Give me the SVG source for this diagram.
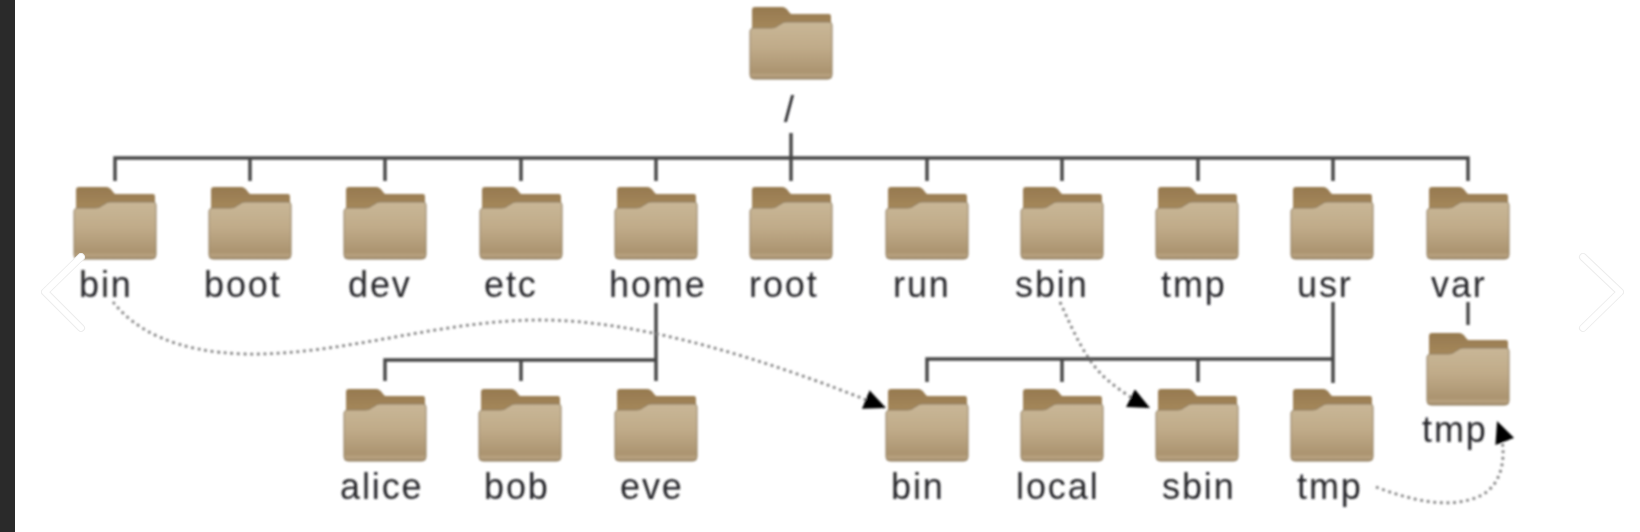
<svg xmlns="http://www.w3.org/2000/svg" xmlns:xlink="http://www.w3.org/1999/xlink" width="1640" height="532" viewBox="0 0 1640 532">
<style>
text{font-family:"Liberation Sans",Arial,sans-serif;font-size:36px;letter-spacing:1.9px;fill:#26262a}
.tree{fill:none;stroke:#454545;stroke-width:3.4}
.link{fill:none;stroke:#808080;stroke-width:2.8;stroke-dasharray:2.8 3.8}
.nav{fill:none;stroke:#fff;stroke-width:6;stroke-linecap:round;stroke-linejoin:round}
.navs{fill:none;stroke:#ececec;stroke-width:8;stroke-linecap:round;stroke-linejoin:round}
</style>
<defs>
<filter id="soft" x="-2%" y="-2%" width="104%" height="104%"><feGaussianBlur stdDeviation="1"/></filter>
<linearGradient id="front" x1="0" y1="0" x2="0" y2="1">
<stop offset="0" stop-color="#c9b797"/><stop offset="0.45" stop-color="#c0ab89"/><stop offset="0.88" stop-color="#ab9470"/><stop offset="0.94" stop-color="#b9a381"/><stop offset="1" stop-color="#9a8462"/>
</linearGradient>
<linearGradient id="back" x1="0" y1="0" x2="0" y2="1">
<stop offset="0" stop-color="#96794f"/><stop offset="1" stop-color="#ab8e60"/>
</linearGradient>
<g id="folder">
<path d="M2,3Q2,0 5,0H32Q36,0 39,5L41,7H79Q81,7 81,10V30H2Z" fill="url(#back)"/>
<path d="M0,24Q0,22 3,21H22Q26,21 29,18L31,17Q33,15 36,15H79Q82,15 82,18V68Q82,72 78,72H4Q0,72 0,68Z" fill="url(#front)" stroke="#8f7d60" stroke-width="1"/>
</g>
<marker id="arrow" markerUnits="userSpaceOnUse" markerWidth="24" markerHeight="22" refX="22" refY="10" orient="auto">
<path d="M0,0L22,10L0,20Z" fill="#000"/>
</marker>
</defs>
<rect width="1640" height="532" fill="#fff"/>
<rect width="15" height="532" fill="#2a2a2a"/>
<g filter="url(#soft)">
<g id="connectors">
<path class="tree" d="M115,181V158H1468V181M250,158V181M385,158V181M521,158V181M656,158V181M791,133V181M927,158V181M1062,158V181M1198,158V181M1333,158V181"/>
<path class="tree" d="M656,303V381M385,381V360H656M521,360V381"/>
<path class="tree" d="M1333,302V383M927,382V359H1333M1062,359V382M1198,359V382"/>
<path class="tree" d="M1468,302V325"/>
<path class="link" marker-end="url(#arrow)" d="M113,302C135,330 175,352 245,354C340,356 440,320 540,320C640,320 770,360 886,408"/>
<path class="link" marker-end="url(#arrow)" d="M1060,302C1075,335 1088,365 1110,382C1122,392 1136,401 1150,408"/>
<path class="link" marker-end="url(#arrow)" d="M1376,487C1410,500 1450,510 1480,496C1505,484 1508,450 1497,421"/>
</g>
<g id="n-root-dir"><use xlink:href="#folder" href="#folder" x="750" y="7"/><text x="784" y="122">/</text></g>
<g id="n-bin"><use xlink:href="#folder" href="#folder" x="74" y="187"/><text x="79" y="297">bin</text></g>
<g id="n-boot"><use xlink:href="#folder" href="#folder" x="209" y="187"/><text x="204" y="297">boot</text></g>
<g id="n-dev"><use xlink:href="#folder" href="#folder" x="344" y="187"/><text x="348" y="297">dev</text></g>
<g id="n-etc"><use xlink:href="#folder" href="#folder" x="480" y="187"/><text x="484" y="297">etc</text></g>
<g id="n-home"><use xlink:href="#folder" href="#folder" x="615" y="187"/><text x="609" y="297">home</text></g>
<g id="n-root"><use xlink:href="#folder" href="#folder" x="750" y="187"/><text x="749" y="297">root</text></g>
<g id="n-run"><use xlink:href="#folder" href="#folder" x="886" y="187"/><text x="893" y="297">run</text></g>
<g id="n-sbin"><use xlink:href="#folder" href="#folder" x="1021" y="187"/><text x="1015" y="297">sbin</text></g>
<g id="n-tmp"><use xlink:href="#folder" href="#folder" x="1156" y="187"/><text x="1161" y="297">tmp</text></g>
<g id="n-usr"><use xlink:href="#folder" href="#folder" x="1291" y="187"/><text x="1297" y="297">usr</text></g>
<g id="n-var"><use xlink:href="#folder" href="#folder" x="1427" y="187"/><text x="1431" y="297">var</text></g>
<g id="n-alice"><use xlink:href="#folder" href="#folder" x="344" y="389"/><text x="340" y="499">alice</text></g>
<g id="n-bob"><use xlink:href="#folder" href="#folder" x="479" y="389"/><text x="484" y="499">bob</text></g>
<g id="n-eve"><use xlink:href="#folder" href="#folder" x="615" y="389"/><text x="620" y="499">eve</text></g>
<g id="n-usr-bin"><use xlink:href="#folder" href="#folder" x="886" y="389"/><text x="891" y="499">bin</text></g>
<g id="n-usr-local"><use xlink:href="#folder" href="#folder" x="1021" y="389"/><text x="1016" y="499">local</text></g>
<g id="n-usr-sbin"><use xlink:href="#folder" href="#folder" x="1156" y="389"/><text x="1162" y="499">sbin</text></g>
<g id="n-usr-tmp"><use xlink:href="#folder" href="#folder" x="1291" y="389"/><text x="1297" y="499">tmp</text></g>
<g id="n-var-tmp"><use xlink:href="#folder" href="#folder" x="1427" y="333"/><text x="1422" y="442">tmp</text></g>
</g>
<g id="nav-prev"><path class="navs" d="M81,257L45,292L81,328"/><path class="nav" d="M81,257L45,292L81,328"/></g>
<g id="nav-next"><path class="navs" d="M1583,257L1620,292L1583,328"/><path class="nav" d="M1583,257L1620,292L1583,328"/></g>
</svg>
